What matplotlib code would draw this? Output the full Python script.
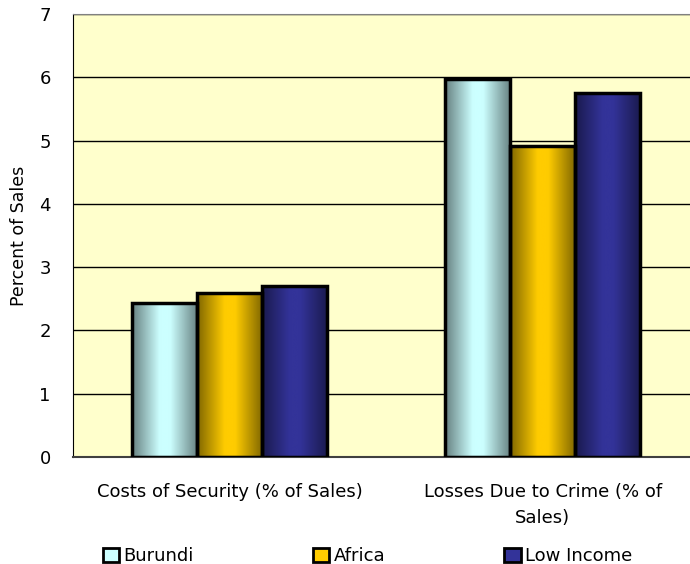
import numpy as np
import matplotlib
matplotlib.use("Agg")
import matplotlib.pyplot as plt
from matplotlib.colors import LinearSegmentedColormap
from matplotlib.patches import Patch

categories = ["Costs of Security (% of Sales)", "Losses Due to Crime (% of\nSales)"]
series = ["Burundi", "Africa", "Low Income"]
burundi = [2.43, 5.97]
africa = [2.59, 4.91]
low_income = [2.70, 5.75]
values = [burundi, africa, low_income]

base_colors = ["#CCFFFF", "#FFCC00", "#333399"]
dark_colors = ["#668080", "#7F6600", "#1A1A4D"]

plt.rcParams["font.family"] = ["DejaVu Sans"]

fig = plt.figure(figsize=(6.9, 5.64), dpi=100)
ax = fig.add_axes([0.1058, 0.1897, 0.894, 0.7855])
ax.set_facecolor("#FFFFCC")

bar_w = 0.208
x = np.arange(len(categories))
grad = np.linspace(0, 1, 256).reshape(1, -1)

for i, (vals, base, dark) in enumerate(zip(values, base_colors, dark_colors)):
    cmap = LinearSegmentedColormap.from_list(
        f"g{i}", [(0, dark), (0.42, base), (0.58, base), (1, dark)])
    offs = x + (i - 1) * bar_w
    for xc, v in zip(offs, vals):
        ax.imshow(grad, cmap=cmap, aspect="auto", zorder=2,
                  extent=[xc - bar_w / 2, xc + bar_w / 2, 0, v], interpolation="bicubic")
    ax.bar(offs, vals, width=bar_w, facecolor="none", edgecolor="black",
           linewidth=2.5, zorder=3)

ax.set_xlim(-0.5, 1.47)
ax.set_ylim(0, 7)
ax.set_yticks(range(8))
ax.yaxis.grid(True, color="black", linewidth=1)
ax.set_axisbelow(True)
ax.tick_params(axis="y", length=0, labelsize=13, pad=16)
ax.tick_params(axis="x", length=0, labelsize=13, pad=19)
ax.set_xticks(x)
ax.set_xticklabels(categories, linespacing=1.55)
ax.set_ylabel("Percent of Sales", fontsize=12.5, labelpad=8)

ax.spines["right"].set_visible(False)
ax.spines["top"].set_color("#808080")
ax.spines["left"].set_color("black")
ax.spines["bottom"].set_color("#404040")
ax.spines["bottom"].set_linewidth(1.5)

handles = [Patch(facecolor=c, edgecolor="black", linewidth=2) for c in base_colors]
fig.legend(handles, series, loc="lower left", bbox_to_anchor=(0.125, -0.031),
           ncol=3, frameon=False, fontsize=13, handlelength=0.9, handleheight=0.9,
           handletextpad=0.25, columnspacing=6.6)

fig.savefig("out.png", dpi=100)
